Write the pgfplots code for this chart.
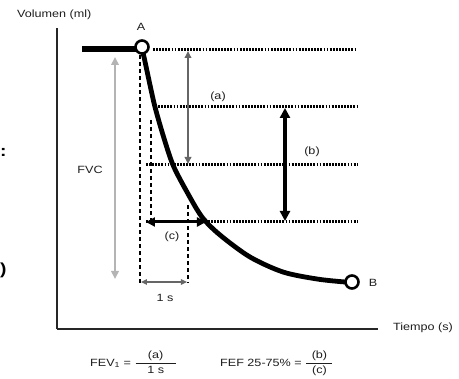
\documentclass[border=0pt]{standalone}
\usepackage{pgfplots}
\pgfplotsset{compat=1.18}
\usepackage{fontspec}
\setmainfont{Liberation Sans}[FakeStretch=1.2]
\usetikzlibrary{arrows.meta}
\definecolor{txt}{HTML}{1E1E1E}
\definecolor{agray}{HTML}{666666}
\definecolor{lgray}{HTML}{B4B4B4}
\begin{document}
\begin{tikzpicture}
\useasboundingbox (-57bp,-50bp) rectangle (402bp,329bp);
\begin{axis}[
  at={(0,0)}, anchor=south west,
  x=1bp, y=1bp,
  xmin=0, xmax=321, ymin=0, ymax=301,
  enlargelimits=false,
  axis lines=left,
  axis line style={-, line width=2bp, black!85},
  ticks=none,
  clip=false,
  font=\fontsize{10.5bp}{12bp}\selectfont\color{txt},
  xlabel={Tiempo (s)},
  xlabel style={at={(axis cs:336,1)}, anchor=west, inner sep=0pt},
  ylabel={Volumen (ml)},
  ylabel style={rotate=-90, at={(axis cs:-40,314)}, anchor=west, inner sep=0pt},
]
% dotted reference levels
\addplot[black, line width=3bp, dash pattern=on 1.8bp off 1.3bp] coordinates {(96,279) (300,279)};
\addplot[black, line width=3bp, dash pattern=on 1.8bp off 1.3bp] coordinates {(98,222) (300,222)};
\addplot[black, line width=3bp, dash pattern=on 1.8bp off 1.3bp] coordinates {(89,164) (300,164)};
\addplot[black, line width=3bp, dash pattern=on 1.8bp off 1.3bp] coordinates {(89,107) (300,107)};
% dashed verticals
\addplot[black, line width=1.3bp, dash pattern=on 4bp off 3bp] coordinates {(83,274) (83,46)};
\addplot[black, line width=1.3bp, dash pattern=on 4bp off 3bp] coordinates {(94,209) (94,107)};
\addplot[black, line width=1.3bp, dash pattern=on 4bp off 3bp] coordinates {(131,124) (131,46)};
% arrows
\draw[agray, line width=2.2bp, {Triangle[length=7bp,width=6.5bp]}-{Triangle[length=7bp,width=6.5bp]}] (axis cs:131,278) -- (axis cs:131,165);
\draw[black, line width=4bp, {Triangle[length=10bp,width=10bp]}-{Triangle[length=10bp,width=10bp]}] (axis cs:228,221) -- (axis cs:228,108);
\draw[black, line width=3bp, {Triangle[length=9bp,width=9bp]}-{Triangle[length=9bp,width=9bp]}] (axis cs:89,107) -- (axis cs:149,107);
\draw[lgray, line width=2.8bp, {Triangle[length=8bp,width=7.5bp]}-{Triangle[length=8bp,width=7.5bp]}] (axis cs:58,272) -- (axis cs:58,50);
\draw[agray, line width=1.8bp, {Triangle[length=6bp,width=5.5bp]}-{Triangle[length=6bp,width=5.5bp]}] (axis cs:84,47) -- (axis cs:130,47);
% plateau before A
\addplot[black, line width=6.5bp] coordinates {(25,280) (80,280)};
% expiration curve
\addplot[black, line width=4.8bp, smooth] coordinates {
 (85,279) (87,272) (93,244) (98,222) (106,194) (116,164) (130,137)
 (145,112) (163,94) (193,72) (226,57) (260,50) (288,47) (295,47)};
% points A and B
\addplot[only marks, mark=*, mark size=6.5bp, mark options={fill=white, draw=black, line width=2.6bp}] coordinates {(85,282) (295,47)};
% labels
\node[inner sep=0pt] at (axis cs:84,302) {A};
\node[inner sep=0pt] at (axis cs:316,46) {B};
\node[inner sep=0pt] at (axis cs:161,232) {(a)};
\node[inner sep=0pt] at (axis cs:255,177) {(b)};
\node[inner sep=0pt] at (axis cs:115,92) {(c)};
\node[inner sep=0pt] at (axis cs:33,159) {FVC};
\node[inner sep=0pt] at (axis cs:108,31) {1 s};
\node[inner sep=0pt, anchor=base west] at (axis cs:33,-37) {FEV\textsubscript{1} = $\displaystyle\frac{\makebox[40bp]{(a)}\rule[-3bp]{0pt}{1bp}}{\rule{0pt}{9bp}\mbox{1 s}}$};
\node[inner sep=0pt, anchor=base west] at (axis cs:163,-37) {FEF 25-75\% = $\displaystyle\frac{\makebox[26bp]{(b)}\rule[-3bp]{0pt}{1bp}}{\rule{0pt}{9bp}\mbox{(c)}}$};
% remnants at the left edge
\node[inner sep=0pt, anchor=west, font=\fontsize{16bp}{18bp}\selectfont\bfseries, black] at (axis cs:-57,177) {:};
\node[inner sep=0pt, anchor=west, font=\fontsize{16bp}{18bp}\selectfont\bfseries, black] at (axis cs:-57,59) {)};
\end{axis}
\end{tikzpicture}
\end{document}
